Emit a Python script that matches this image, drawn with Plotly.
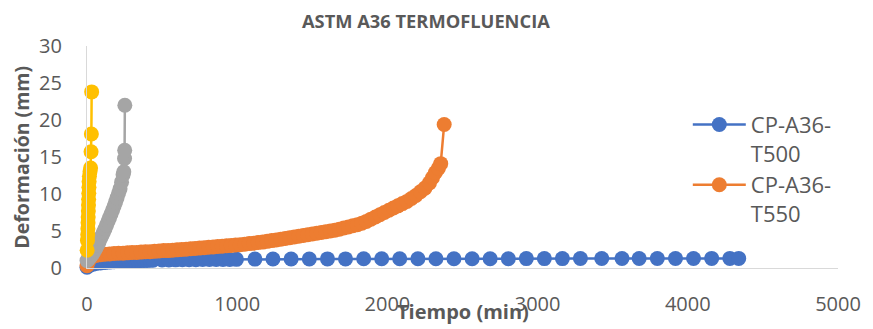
import plotly.graph_objects as go

# ---------------- data ----------------
t500_time = [0, 10, 20, 40, 60, 90, 120, 150, 180, 210, 240, 260, 280, 300, 320, 340, 360, 380, 400, 420, 440,
             500, 545, 590, 635, 680, 725, 770, 815, 860, 905, 950, 995, 1118, 1238, 1359, 1480, 1601, 1721,
             1842, 1962, 2082, 2203, 2323, 2443, 2564, 2684, 2805, 2925, 3045, 3165, 3285, 3427, 3562, 3676,
             3797, 3918, 4038, 4159, 4280, 4339]
t500_def = [0.10, 0.30, 0.40, 0.50, 0.60, 0.68, 0.75, 0.80, 0.84, 0.88, 0.90, 0.92, 0.93, 0.95, 0.97, 0.99, 1.00,
            1.02, 1.03, 1.04, 1.05, 1.08, 1.09, 1.10, 1.11, 1.12, 1.13, 1.14, 1.15, 1.15, 1.16, 1.16, 1.17, 1.20,
            1.21, 1.22, 1.22, 1.23, 1.23, 1.24, 1.24, 1.24, 1.25, 1.25, 1.25, 1.26, 1.26, 1.26, 1.27, 1.27, 1.27,
            1.28, 1.28, 1.28, 1.28, 1.29, 1.29, 1.29, 1.30, 1.30, 1.30]

t550_time = [0, 10, 20, 30, 60, 90, 120, 150, 180, 210, 240, 270, 300, 330, 360, 390, 420, 450, 480, 510, 540,
             570, 600, 630, 660, 690, 720, 750, 780, 810, 840, 870, 900, 930, 960, 990, 1020, 1050, 1080, 1110,
             1140, 1170, 1200, 1230, 1260, 1290, 1320, 1350, 1380, 1410, 1440, 1470, 1500, 1530, 1560, 1590,
             1620, 1650, 1680, 1710, 1740, 1770, 1800, 1830, 1860, 1890, 1920, 1950, 1980, 2010, 2040, 2070,
             2100, 2130, 2160, 2190, 2220, 2250, 2280, 2300, 2320, 2340, 2355, 2378]
t550_def = [0.30, 0.90, 1.30, 1.50, 1.70, 1.80, 1.85, 1.90, 1.95, 2.00, 2.00, 2.05, 2.10, 2.10, 2.15, 2.20, 2.20,
            2.25, 2.30, 2.35, 2.35, 2.40, 2.45, 2.50, 2.55, 2.60, 2.65, 2.70, 2.75, 2.80, 2.85, 2.90, 2.95, 3.00,
            3.05, 3.10, 3.15, 3.20, 3.30, 3.35, 3.45, 3.50, 3.60, 3.70, 3.80, 3.90, 4.00, 4.10, 4.20, 4.30, 4.40,
            4.50, 4.60, 4.70, 4.80, 4.90, 5.00, 5.10, 5.25, 5.40, 5.55, 5.70, 5.85, 6.05, 6.30, 6.60, 6.90, 7.20,
            7.50, 7.80, 8.10, 8.40, 8.70, 9.00, 9.40, 9.80, 10.30, 10.80, 11.50, 12.20, 12.90, 13.50, 14.10, 19.40]

t600_time = [0, 10, 20, 30, 40, 50, 60, 70, 80, 90, 100, 110, 120, 130, 140, 150, 160, 170, 180, 190, 200, 210,
             220, 230, 240, 245, 250, 251, 252]
t600_def = [1.00, 1.20, 1.45, 1.70, 2.00, 2.35, 2.70, 3.10, 3.50, 4.00, 4.40, 4.85, 5.30, 5.80, 6.30, 6.80, 7.30,
            7.80, 8.35, 8.90, 9.50, 10.10, 10.70, 11.60, 12.60, 13.00, 14.80, 15.90, 22.00]

t650_time = [1, 3, 5, 6, 7, 8, 9, 10, 11, 12, 13, 14, 16, 20, 24, 27, 29, 31]
t650_def = [2.40, 3.70, 4.50, 5.30, 6.10, 6.90, 7.70, 8.50, 9.30, 10.10, 10.90, 11.70, 12.40, 13.00, 13.50, 15.70,
            18.10, 23.80]

series_names = ["CP-A36-<br>T500", "CP-A36-<br>T550", "CP-A36-<br>T600", "CP-A36-<br>T650"]
series_colors = ["#4472C4", "#ED7D31", "#A5A5A5", "#FFC000"]
x_ticks = [0, 1000, 2000, 3000, 4000, 5000]
y_ticks = [0, 5, 10, 15, 20, 25, 30]

title_text = "ASTM A36 TERMOFLUENCIA"
x_title = "Tiempo (min)"
y_title = "Deformación (mm)"

# ---------------- figure ----------------
fig = go.Figure()
data = [(t500_time, t500_def), (t550_time, t550_def), (t600_time, t600_def), (t650_time, t650_def)]
for i, (tx, ty) in enumerate(data):
    fig.add_trace(go.Scatter(
        x=tx, y=ty, mode="lines+markers", name=series_names[i],
        line=dict(color=series_colors[i], width=2.5),
        marker=dict(color=series_colors[i], size=15),
        cliponaxis=False,
        showlegend=(i < 2),
    ))

font_fam = "Open Sans, Noto Sans, sans-serif"
txt_col = "#595959"

fig.update_layout(
    width=873, height=329,
    margin=dict(l=87, r=27, t=46, b=58),
    paper_bgcolor="white", plot_bgcolor="white",
    font=dict(family=font_fam, color=txt_col, size=20),
    xaxis=dict(range=[0, 5000], tickvals=x_ticks, showgrid=False, zeroline=False,
               showline=True, linecolor="#D9D9D9", linewidth=1.3, ticks="",
               tickfont=dict(size=20, color=txt_col), ticklabelstandoff=18),
    yaxis=dict(range=[0, 30], tickvals=y_ticks, showgrid=False, zeroline=False,
               showline=True, linecolor="#D9D9D9", linewidth=1.3, ticks="",
               tickfont=dict(size=20, color=txt_col), ticklabelstandoff=20),
    legend=dict(x=0.8, y=0.74, xanchor="left", yanchor="top", valign="top",
                font=dict(size=22, color=txt_col), itemwidth=53, bgcolor="rgba(0,0,0,0)"),
    annotations=[
        dict(text="<b>" + title_text + "</b>", xref="paper", yref="paper", x=0.452, y=1.1156,
             xanchor="center", yanchor="middle", showarrow=False, font=dict(size=18.3, color=txt_col)),
        dict(text="<b>" + x_title + "</b>", xref="paper", yref="paper", x=0.5006, y=-0.1956,
             xanchor="center", yanchor="middle", showarrow=False, font=dict(size=20, color=txt_col)),
        dict(text="<b>" + y_title + "</b>", xref="paper", yref="paper", x=-0.0883, y=0.50,
             xanchor="center", yanchor="middle", textangle=-90, showarrow=False,
             font=dict(size=19.5, color=txt_col)),
    ],
)

fig.write_html("out.html")
